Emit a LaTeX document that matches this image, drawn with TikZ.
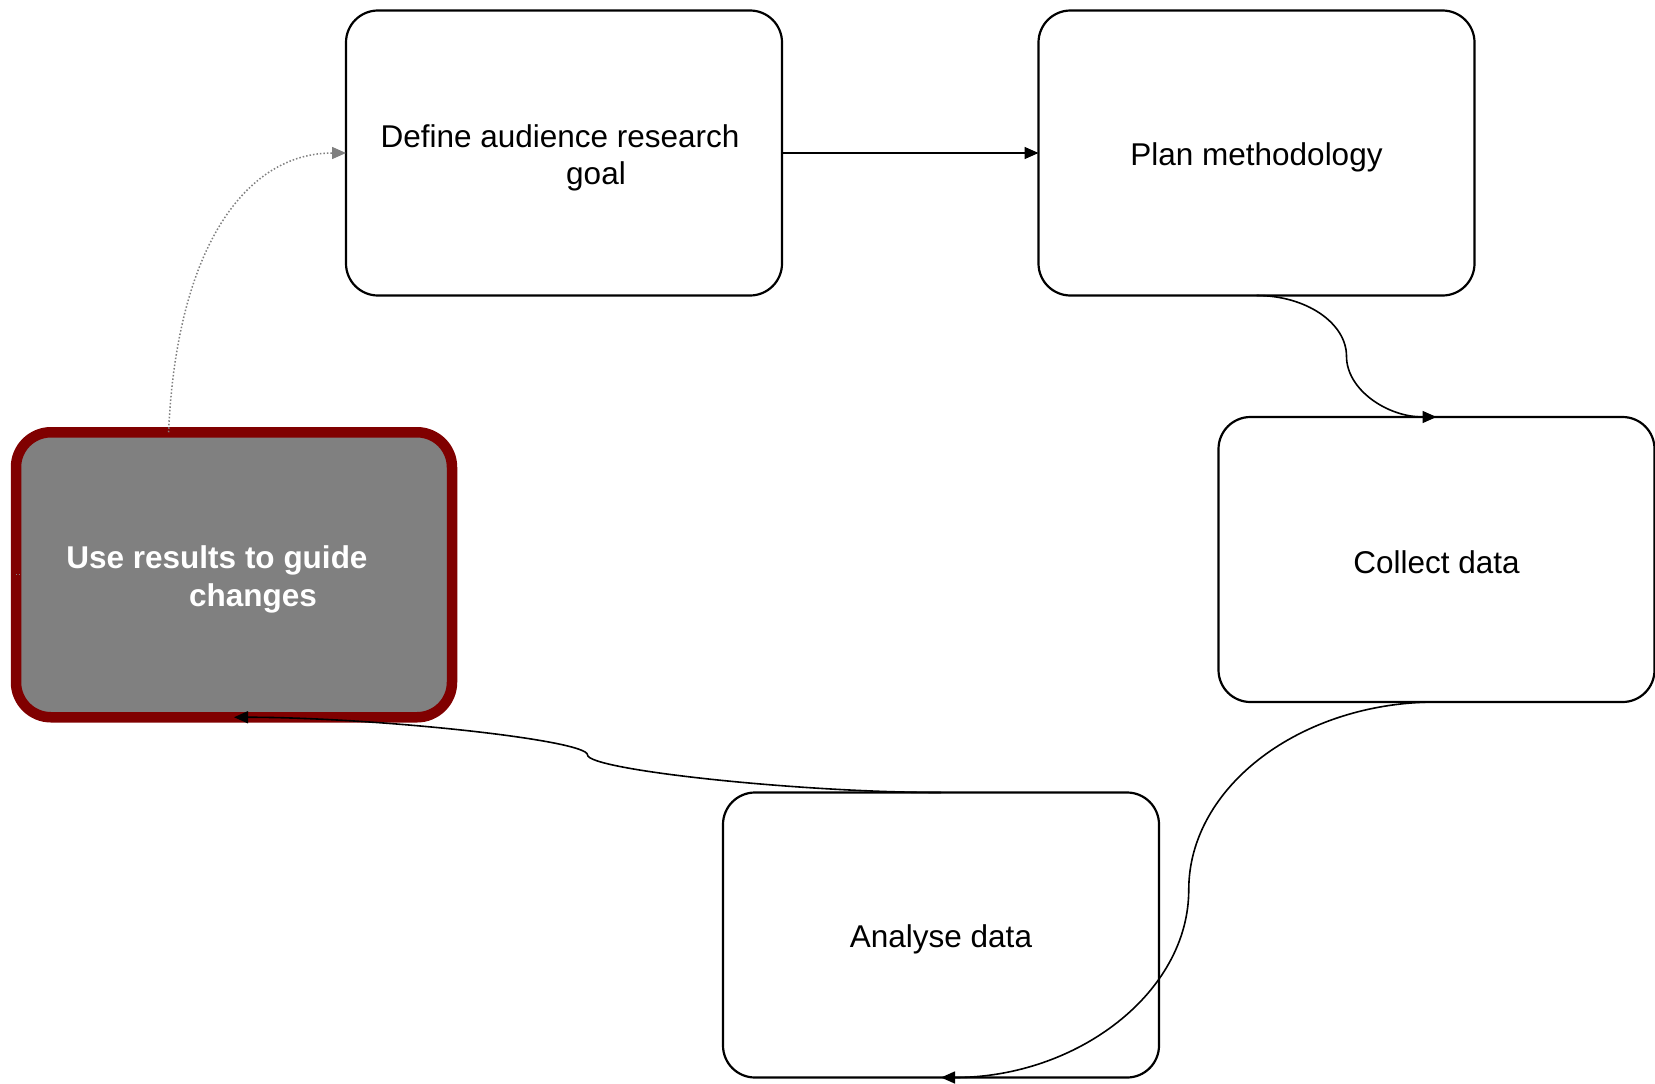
\documentclass[tikz,border=0pt]{standalone}
\usepackage{fontspec}
\setmainfont{Liberation Sans}
\usetikzlibrary{arrows.meta,calc}
\definecolor{darkred}{RGB}{128,0,0}
\definecolor{boxgray}{RGB}{128,128,128}
\begin{document}
\begin{tikzpicture}[x=1pt,y=-1pt,
  stepbox/.style={draw=black, fill=white, line width=2.2pt, rounded corners=32pt,
    minimum width=436pt, minimum height=285pt, inner sep=0pt, outer sep=0pt},
  usebox/.style={stepbox, draw=darkred, fill=boxgray, line width=10.5pt,
    rounded corners=35pt},
  boxtext/.style={align=center, inner sep=0pt, font=\fontsize{31.5}{37.5}\selectfont},
  usetext/.style={boxtext, text=white, font=\fontsize{31.5}{37.5}\selectfont\bfseries},
  conn/.style={line width=1.6pt, -{Triangle[length=14pt,width=12pt]}},
  dotconn/.style={draw=boxgray, line width=1.5pt, dash pattern=on 1.5pt off 2pt,
    -{Triangle[length=14pt,width=12pt,fill=boxgray]}},
  stub/.style={draw=boxgray, line width=1pt, dash pattern=on 1pt off 1.5pt}]
\useasboundingbox (0,0) rectangle (1655,1084);

\node[stepbox] (define) at (564,153) {};
\node[stepbox] (plan) at (1256.5,153) {};
\node[stepbox] (collect) at (1436.5,559.5) {};
\node[stepbox] (analyse) at (941,935) {};
\node[usebox] (use) at (234,574.75) {};

\node[boxtext] (defineT) at ([yshift=-4.8pt]define.center) {\hspace*{-8pt}Define audience research\\\hspace*{64pt}goal};
\node[boxtext] (planT) at ([yshift=-4.8pt]plan.center) {Plan methodology};
\node[boxtext] (collectT) at ([yshift=-3pt]collect.center) {Collect data};
\node[boxtext] (analyseT) at ([yshift=-4.8pt]analyse.center) {Analyse data};
\node[usetext] (useT) at ([yshift=-4.8pt]use.center) {\hspace*{-34pt}Use results to guide\\\hspace*{38pt}changes};

\coordinate (ustart) at ($(use.north west)!0.35!(use.north east)$);
\coordinate (stubR) at (21,574.75);
\coordinate (m1) at ($(plan.south)!0.5!(collect.north)$);
\coordinate (m2) at ($(collect.south)!0.5!(analyse.south)$);
\coordinate (m3) at ($(analyse.north)!0.5!(use.south)$);

\draw[conn] (define.east) -- (plan.west);
\draw[conn] (plan.south) .. controls ($(plan.south)+(49.5,0)$) and ($(m1)+(0,-33.3)$) .. (m1)
  .. controls ($(m1)+(0,33.3)$) and ($(collect.north)-(49.5,0)$) .. (collect.north);
\draw[conn] (collect.south) .. controls ($(collect.south)-(136,0)$) and ($(m2)+(0,-103)$) .. (m2)
  .. controls ($(m2)+(0,103)$) and ($(analyse.south)+(136,0)$) .. (analyse.south);
\draw[conn] (analyse.north) .. controls ($(analyse.north)-(141,0)$) and ($(m3)+(0,15)$) .. (m3)
  .. controls ($(m3)+(0,-15)$) and ($(use.south)+(141,0)$) .. (use.south);
\draw[dotconn] (ustart) .. controls ($(ustart)+(8,-185)$) and ($(define.west)-(100,0)$) .. (define.west);
\draw[stub] (use.west) -- (stubR);
\end{tikzpicture}
\end{document}
